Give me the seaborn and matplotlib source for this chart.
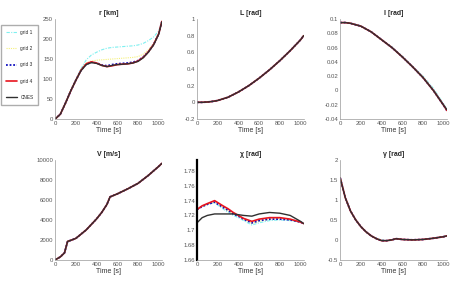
import numpy as np
import pandas as pd
import seaborn as sns
import matplotlib
matplotlib.use("Agg")
import matplotlib.pyplot as plt

# =========================
# DATA
# =========================

SERIES = ["grid 1", "grid 2", "grid 3", "grid 4", "CNES"]

# r [km]
t_r = [0, 50, 100, 150, 200, 250, 300, 350, 400, 450, 500, 550, 600, 650, 700, 750, 800, 850, 900, 950, 1000, 1030]
r_g1 = [0, 12, 41, 71, 99, 126, 148, 160, 167, 173, 177, 179, 180, 181, 182, 183, 185, 189, 196, 205, 220, 244]
r_g2 = [0, 12, 40, 71, 98, 124, 140, 145, 147, 148, 149, 150, 151, 152, 153, 154, 156, 162, 173, 189, 214, 243]
r_g3 = [0, 12, 40, 70, 97, 122, 137, 142, 140, 135, 133, 136, 138, 139, 140, 142, 146, 155, 168, 186, 213, 243]
r_g4 = [0, 12, 40, 70, 97, 122, 138, 143, 140, 134, 131, 133, 136, 137, 138, 140, 145, 154, 168, 186, 213, 244]
r_cnes = [0, 12, 40, 70, 97, 121, 136, 141, 139, 134, 131, 134, 136, 137, 138, 140, 144, 153, 167, 185, 212, 243]

# L [rad]
t_L = [0, 50, 100, 150, 200, 300, 400, 500, 600, 700, 800, 900, 1000, 1030]
L_g1 = [0, 0.0, 0.004, 0.011, 0.022, 0.062, 0.125, 0.2, 0.29, 0.39, 0.5, 0.62, 0.75, 0.8]
L_g2 = [0, 0.0, 0.004, 0.011, 0.022, 0.062, 0.124, 0.2, 0.29, 0.39, 0.5, 0.62, 0.75, 0.8]
L_g3 = [0, 0.0, 0.004, 0.011, 0.022, 0.061, 0.124, 0.2, 0.29, 0.39, 0.5, 0.62, 0.75, 0.8]
L_g4 = [0, 0.0, 0.004, 0.011, 0.022, 0.061, 0.124, 0.2, 0.29, 0.39, 0.5, 0.62, 0.75, 0.8]
L_cnes = [0, 0.0, 0.004, 0.011, 0.022, 0.061, 0.124, 0.2, 0.29, 0.39, 0.5, 0.62, 0.75, 0.8]

# l [rad]
t_l = [0, 50, 100, 150, 200, 300, 400, 500, 600, 700, 800, 900, 1000, 1030]
l_g1 = [0.095, 0.095, 0.094, 0.092, 0.09, 0.082, 0.071, 0.061, 0.048, 0.034, 0.02, 0.003, -0.019, -0.026]
l_g2 = [0.095, 0.095, 0.094, 0.092, 0.09, 0.082, 0.071, 0.06, 0.047, 0.033, 0.019, 0.001, -0.02, -0.027]
l_g3 = [0.095, 0.095, 0.094, 0.092, 0.09, 0.082, 0.071, 0.06, 0.047, 0.033, 0.018, 0.0, -0.021, -0.028]
l_g4 = [0.095, 0.095, 0.094, 0.092, 0.09, 0.082, 0.071, 0.06, 0.047, 0.033, 0.018, 0.0, -0.021, -0.028]
l_cnes = [0.095, 0.095, 0.094, 0.092, 0.09, 0.082, 0.071, 0.06, 0.047, 0.033, 0.018, 0.0, -0.021, -0.027]

# V [m/s]
t_V = [0, 50, 90, 120, 150, 200, 300, 400, 450, 500, 530, 600, 700, 800, 900, 1000, 1030]
V_g1 = [0, 300, 700, 1850, 1950, 2150, 3000, 4100, 4750, 5550, 6300, 6600, 7100, 7650, 8450, 9350, 9650]
V_g2 = [0, 300, 700, 1850, 1950, 2150, 3000, 4100, 4750, 5550, 6300, 6600, 7100, 7650, 8450, 9350, 9650]
V_g3 = [0, 300, 700, 1850, 1950, 2150, 3000, 4100, 4750, 5550, 6300, 6600, 7100, 7650, 8450, 9350, 9650]
V_g4 = [0, 300, 700, 1850, 1950, 2150, 3000, 4100, 4750, 5550, 6300, 6600, 7100, 7650, 8450, 9350, 9650]
V_cnes = [0, 300, 700, 1850, 1950, 2150, 3000, 4100, 4750, 5550, 6300, 6600, 7100, 7650, 8450, 9350, 9650]

# chi [rad]
t_chi = [0, 50, 100, 170, 250, 300, 350, 400, 450, 530, 600, 700, 800, 900, 1000, 1030]
chi_g1 = [1.728, 1.732, 1.735, 1.737, 1.729, 1.724, 1.72, 1.717, 1.713, 1.707, 1.71, 1.713, 1.714, 1.713, 1.711, 1.709]
chi_g2 = [1.728, 1.732, 1.735, 1.738, 1.731, 1.726, 1.722, 1.719, 1.715, 1.709, 1.712, 1.715, 1.716, 1.714, 1.711, 1.709]
chi_g3 = [1.728, 1.732, 1.735, 1.738, 1.731, 1.727, 1.722, 1.719, 1.715, 1.71, 1.713, 1.715, 1.715, 1.714, 1.711, 1.709]
chi_g4 = [1.728, 1.733, 1.736, 1.74, 1.733, 1.729, 1.724, 1.72, 1.716, 1.712, 1.715, 1.717, 1.717, 1.715, 1.711, 1.709]
chi_cnes = [1.71, 1.717, 1.72, 1.722, 1.722, 1.722, 1.722, 1.721, 1.72, 1.719, 1.722, 1.724, 1.723, 1.72, 1.712, 1.709]

# gamma [rad]
t_g = [0, 25, 50, 100, 150, 200, 250, 300, 350, 400, 450, 500, 540, 600, 700, 800, 900, 1000, 1030]
g_g1 = [1.55, 1.3, 1.05, 0.72, 0.5, 0.33, 0.2, 0.1, 0.04, 0.0, -0.01, 0.0, 0.02, 0.01, 0.0, 0.01, 0.04, 0.08, 0.1]
g_g2 = [1.55, 1.3, 1.05, 0.72, 0.5, 0.33, 0.2, 0.1, 0.03, -0.01, -0.02, 0.0, 0.03, 0.01, 0.0, 0.01, 0.04, 0.08, 0.1]
g_g3 = [1.55, 1.3, 1.05, 0.72, 0.5, 0.33, 0.2, 0.1, 0.03, -0.02, -0.02, 0.0, 0.03, 0.01, 0.0, 0.01, 0.04, 0.08, 0.1]
g_g4 = [1.55, 1.3, 1.05, 0.72, 0.5, 0.33, 0.2, 0.1, 0.03, -0.02, -0.02, 0.0, 0.03, 0.01, 0.0, 0.01, 0.04, 0.08, 0.1]
g_cnes = [1.55, 1.3, 1.05, 0.72, 0.5, 0.33, 0.2, 0.1, 0.03, -0.02, -0.02, 0.0, 0.03, 0.01, 0.0, 0.01, 0.04, 0.08, 0.1]

# =========================
# STYLE
# =========================

sns.set_style("white")
plt.rcParams["font.family"] = ["Liberation Sans", "DejaVu Sans"]

STYLES = {
    "grid 1": dict(color="#7ff0f0", linestyle=(0, (3, 1.2, 1, 1.2)), lw=0.8),
    "grid 2": dict(color="#f5f07a", linestyle=(0, (1, 1)), lw=0.8),
    "grid 3": dict(color="#1010c0", linestyle=(0, (1, 1)), lw=1.3),
    "grid 4": dict(color="#e8141e", linestyle="-", lw=1.2),
    "CNES": dict(color="#303030", linestyle="-", lw=1.0),
}

PANELS = [
    ("r [km]", t_r, [r_g1, r_g2, r_g3, r_g4, r_cnes], (0, 250), [0, 50, 100, 150, 200, 250]),
    ("L [rad]", t_L, [L_g1, L_g2, L_g3, L_g4, L_cnes], (-0.2, 1), [-0.2, 0, 0.2, 0.4, 0.6, 0.8, 1]),
    ("l [rad]", t_l, [l_g1, l_g2, l_g3, l_g4, l_cnes], (-0.04, 0.1), [-0.04, -0.02, 0, 0.02, 0.04, 0.06, 0.08, 0.1]),
    ("V [m/s]", t_V, [V_g1, V_g2, V_g3, V_g4, V_cnes], (0, 10000), [0, 2000, 4000, 6000, 8000, 10000]),
    ("χ [rad]", t_chi, [chi_g1, chi_g2, chi_g3, chi_g4, chi_cnes], (1.66, 1.795), [1.66, 1.68, 1.7, 1.72, 1.74, 1.76, 1.78]),
    ("γ [rad]", t_g, [g_g1, g_g2, g_g3, g_g4, g_cnes], (-0.5, 2), [-0.5, 0, 0.5, 1, 1.5, 2]),
]

LEFTS = [0.121, 0.432, 0.746]
BOTTOMS = [0.581, 0.085]
W, H = 0.235, 0.352

# =========================
# PLOT
# =========================

fig = plt.figure(figsize=(4.56, 2.84), dpi=100)

for i, (title, t, series, ylim, yticks) in enumerate(PANELS):
    ax = fig.add_axes([LEFTS[i % 3], BOTTOMS[i // 3], W, H])
    for name, vals in zip(SERIES, series):
        sns.lineplot(x=t, y=vals, ax=ax, label=name, **STYLES[name])
    ax.set_xlim(0, 1035)
    ax.set_ylim(*ylim)
    ax.set_xticks([0, 200, 400, 600, 800, 1000])
    ax.set_yticks(yticks)
    ax.set_yticklabels([f"{v:g}" for v in yticks])
    ax.set_title(title, fontsize=5, fontweight="bold", pad=3)
    ax.set_xlabel("Time [s]", fontsize=5, labelpad=1, color="#333333")
    ax.tick_params(labelsize=4.3, length=1.5, width=0.4, direction="in", pad=1.5, colors="#555555")
    for side in ["top", "right"]:
        ax.spines[side].set_visible(False)
    for side in ["left", "bottom"]:
        ax.spines[side].set_color("#999999")
        ax.spines[side].set_linewidth(0.5)
    if title.startswith("χ"):
        ax.spines["left"].set_color("black")
        ax.spines["left"].set_linewidth(1.6)
    if i == 0:
        handles, labels = ax.get_legend_handles_labels()
    ax.get_legend().remove()

fig.legend(
    handles, labels,
    loc="upper left", bbox_to_anchor=(0.003, 0.912),
    fontsize=3.4, frameon=True, fancybox=False, edgecolor="#999999",
    labelspacing=2.4, handlelength=2.3, handletextpad=0.7,
    borderpad=1.0, borderaxespad=0,
)

plt.savefig("out.png", dpi=100)
plt.close()
